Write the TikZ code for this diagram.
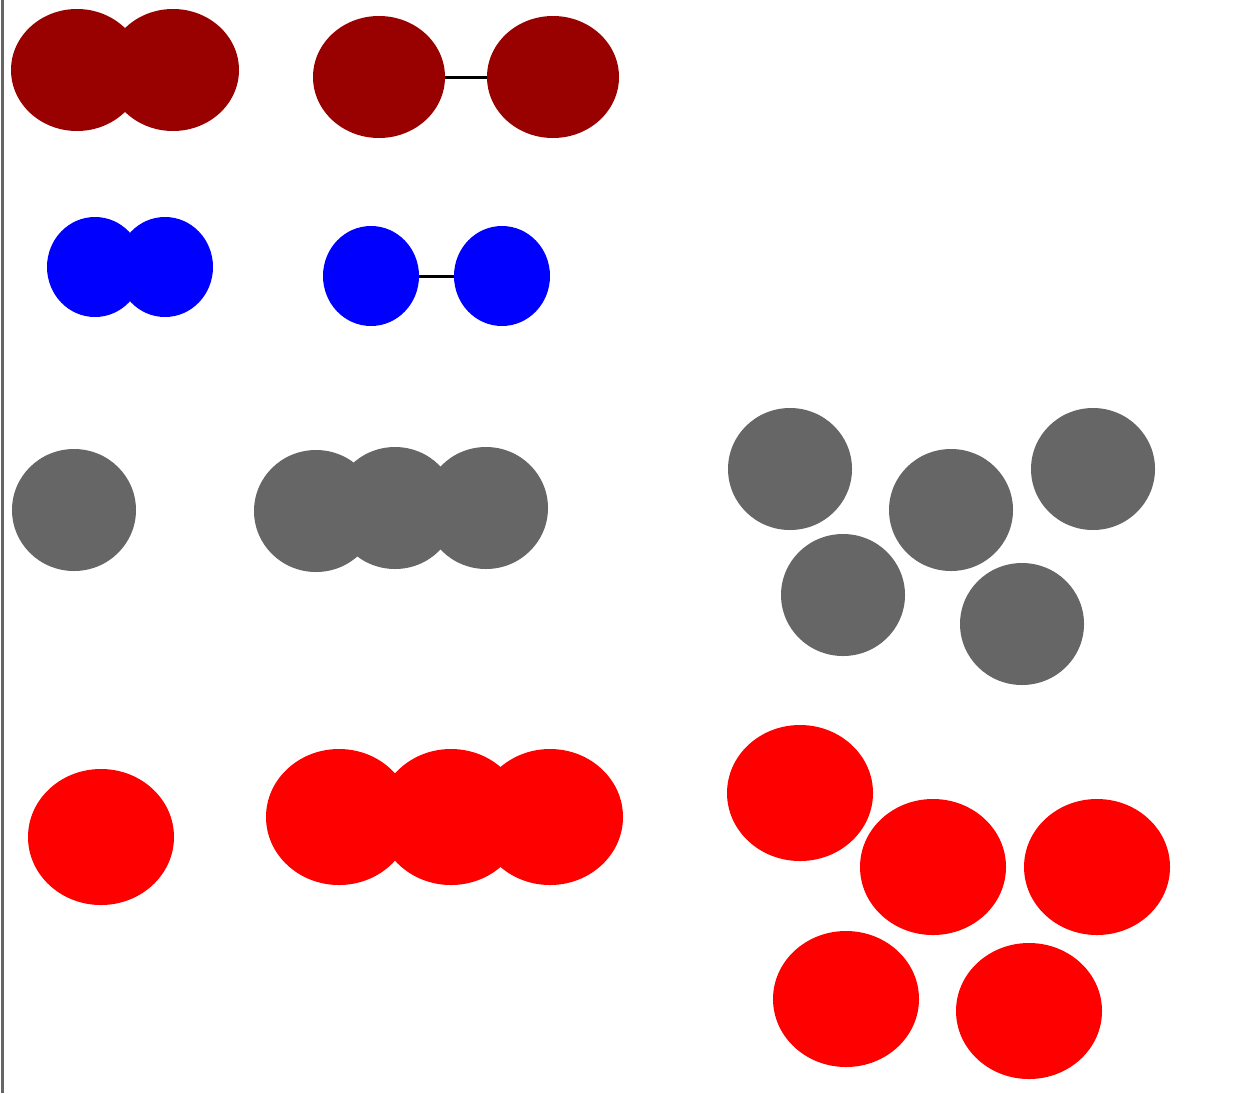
\documentclass[tikz,border=0pt]{standalone}
\usetikzlibrary{shapes.geometric}
\definecolor{dred}{HTML}{990000}
\definecolor{gr}{HTML}{666666}
\begin{document}
\begin{tikzpicture}[x=1pt,y=-1pt,
  blob/.style={ellipse,inner sep=0pt,outer sep=0pt,draw=none},
  dr/.style={blob,fill=dred,minimum width=132pt,minimum height=122pt},
  bl/.style={blob,fill=blue,minimum width=96pt,minimum height=100pt},
  gy/.style={blob,fill=gr,minimum width=124pt,minimum height=122pt},
  rd/.style={blob,fill=red,minimum width=146pt,minimum height=136pt},
  link/.style={draw=black,line width=3pt}]
\useasboundingbox (0,0) rectangle (1238,1093);
\draw[gr,line width=2.5pt] (2.5,0) -- (2.5,1093);
% row 1
\node[dr] (e1) at (77,70) {};
\node[dr] (e2) at (173,70) {};
\node[dr] (e3) at (379,77) {};
\node[dr] (e4) at (553,77) {};
\draw[link] (e3) -- (e4);
% row 2
\node[bl] (b1) at (95,267) {};
\node[bl] (b2) at (165,267) {};
\node[bl] (b3) at (371,276) {};
\node[bl] (b4) at (502,276) {};
\draw[link] (b3) -- (b4);
% row 3
\node[gy] (g1) at (74,510) {};
\node[gy] (g2) at (316,511) {};
\node[gy] (g3) at (395,508) {};
\node[gy] (g4) at (486,508) {};
\node[gy] (g5) at (790,469) {};
\node[gy] (g6) at (951,510) {};
\node[gy] (g7) at (1093,469) {};
\node[gy] (g8) at (843,595) {};
\node[gy] (g9) at (1022,624) {};
% row 4
\node[rd] (r1) at (101,837) {};
\node[rd] (r2) at (339,817) {};
\node[rd] (r3) at (451,817) {};
\node[rd] (r4) at (550,817) {};
\node[rd] (r5) at (800,793) {};
\node[rd] (r6) at (933,867) {};
\node[rd] (r7) at (1097,867) {};
\node[rd] (r8) at (846,999) {};
\node[rd] (r9) at (1029,1011) {};
\end{tikzpicture}
\end{document}
